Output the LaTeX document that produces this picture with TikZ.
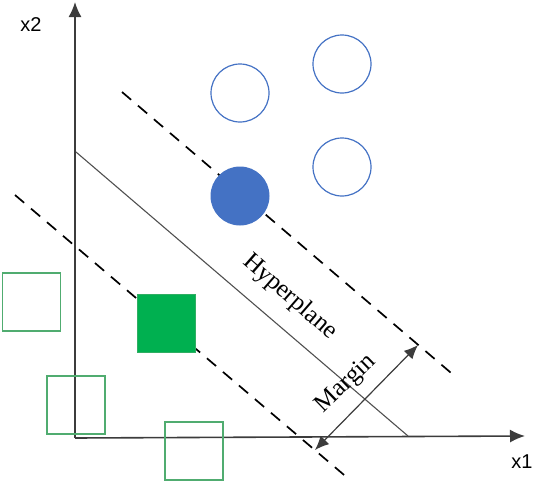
\documentclass[tikz,border=0pt]{standalone}
\usepackage{fontspec}
\setmainfont{Liberation Serif}
\newfontfamily\labfont{Liberation Sans}
\usetikzlibrary{arrows.meta}
\definecolor{ptblue}{RGB}{68,114,196}
\definecolor{ptgreen}{RGB}{0,176,80}
\definecolor{sqline}{RGB}{80,172,112}
\definecolor{axisgray}{RGB}{60,60,60}
\tikzset{
  opencirc/.style={circle,draw=ptblue,line width=1.2pt,minimum size=58pt,inner sep=0pt},
  fillcirc/.style={circle,draw=ptblue,fill=ptblue,line width=1pt,minimum size=58pt,inner sep=0pt},
  opensq/.style={rectangle,draw=sqline,line width=1.4pt,minimum size=58pt,inner sep=0pt},
  fillsq/.style={rectangle,draw=sqline!60!ptgreen,fill=ptgreen,line width=1pt,minimum size=58pt,inner sep=0pt},
  axisline/.style={draw=axisgray,line width=1.6pt,-{Latex[length=15pt,width=13pt]}},
  hyper/.style={draw=axisgray!90,line width=1.1pt},
  margline/.style={line width=1.7pt,dash pattern=on 12pt off 9pt},
  marrow/.style={draw=axisgray,line width=1.2pt,{Latex[length=14pt,width=12pt]}-{Latex[length=14pt,width=12pt]}},
  axlabel/.style={font=\labfont\fontsize{20}{20}\selectfont,inner sep=0pt},
  txtlabel/.style={font=\fontsize{25}{25}\selectfont,inner sep=0pt}
}
\begin{document}
\begin{tikzpicture}[x=1pt,y=-1pt]
\useasboundingbox (0,0) rectangle (550,485);
% axes
\coordinate (O) at (75,438);
\coordinate (Ytip) at (75,2);
\coordinate (Xtip) at (525,436);
\draw[axisline] (O) -- (Ytip);
\draw[axisline] (O) -- (Xtip);
\node[axlabel] (x2) at (31,25) {x2};
\node[axlabel] (x1) at (522,462) {x1};
% hyperplane and margins
\coordinate (H1) at (76,152);
\coordinate (H2) at (408,436);
\draw[hyper] (H1) -- (H2);
\coordinate (U1) at (122,92);
\coordinate (U2) at (457,378);
\draw[margline] (U1) -- (U2);
\coordinate (L1) at (15,195);
\coordinate (L2) at (350,480);
\draw[margline] (L1) -- (L2);
% points
\node[opencirc] (c1) at (240,93) {};
\node[opencirc] (c2) at (342,64) {};
\node[opencirc] (c3) at (342,167) {};
\node[fillcirc] (c4) at (240,196) {};
\node[opensq] (s1) at (31.5,302) {};
\node[fillsq] (s2) at (166,323) {};
\node[opensq] (s3) at (76,405) {};
\node[opensq] (s4) at (194,451) {};
% margin arrow
\coordinate (M1) at (315,450);
\coordinate (M2) at (418,345);
\draw[marrow] (M1) -- (M2);
\node[txtlabel,rotate=-41] (hp) at (290,297) {Hyperplane};
\node[txtlabel,rotate=44] (mg) at (346,384) {Margin};
\end{tikzpicture}
\end{document}
